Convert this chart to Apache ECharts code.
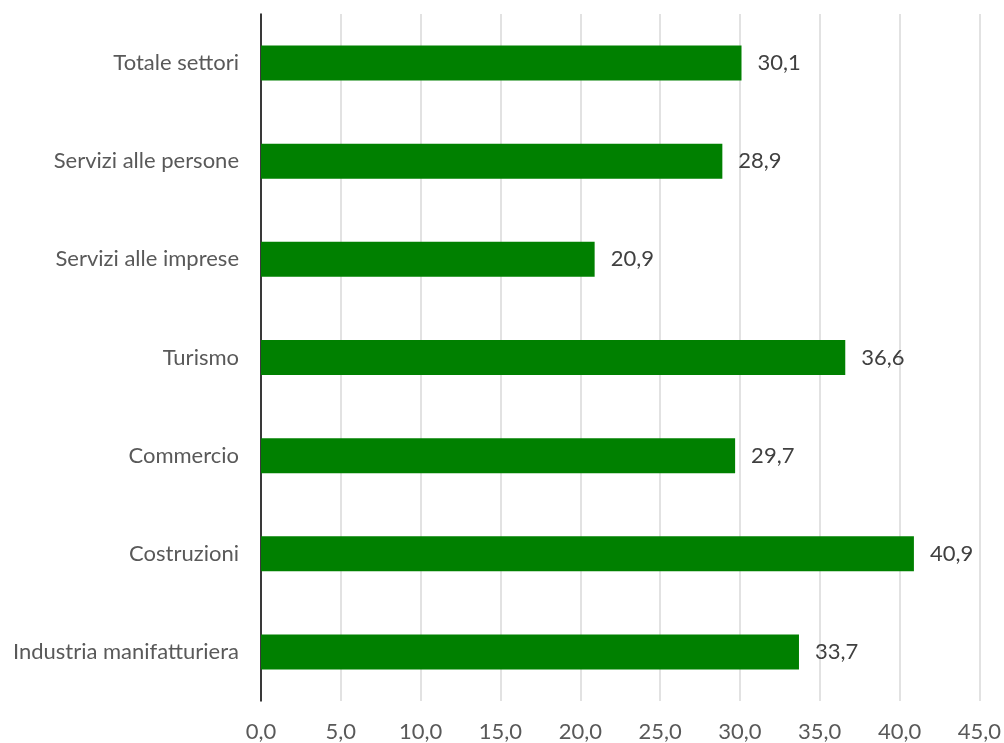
<!DOCTYPE html>
<html><head><meta charset="utf-8">
<script src="https://cdn.jsdelivr.net/npm/echarts@6/dist/echarts.min.js"></script>
<style>html,body{margin:0;padding:0;background:#fff}#c{width:1004px;height:743px}</style>
</head><body><div id="c"></div>
<script>
const categories = ["Industria manifatturiera","Costruzioni","Commercio","Turismo","Servizi alle imprese","Servizi alle persone","Totale settori"];
const values = [33.7, 40.9, 29.7, 36.6, 20.9, 28.9, 30.1];
const xMin = 0, xMax = 45, xStep = 5;
const fmt = v => v.toFixed(1).replace('.', ',');
const FONT = 'Lato';
const FS = 22;
const chart = echarts.init(document.getElementById('c'));
chart.setOption({
  animation:false,
  grid:{left:261,right:23,top:14,bottom:41,containLabel:false},
  xAxis:{type:'value',min:xMin,max:xMax,interval:xStep,
    axisLine:{show:false},axisTick:{show:false},
    splitLine:{show:true,lineStyle:{color:'#d9d9d9',width:1.5}},
    axisLabel:{formatter:v=>fmt(v),color:'#595959',fontSize:FS,fontFamily:FONT,margin:20}},
  yAxis:{type:'category',data:categories,
    axisLine:{show:true,lineStyle:{color:'#000',width:1.5}},axisTick:{show:false},
    axisLabel:{color:'#595959',fontSize:FS,fontFamily:FONT,margin:22}},
  series:[{type:'bar',data:values,barWidth:35,itemStyle:{color:'#008000'},
    label:{show:true,position:'right',distance:16,formatter:p=>fmt(p.value),color:'#404040',fontSize:FS,fontFamily:FONT}}]
});
</script></body></html>
